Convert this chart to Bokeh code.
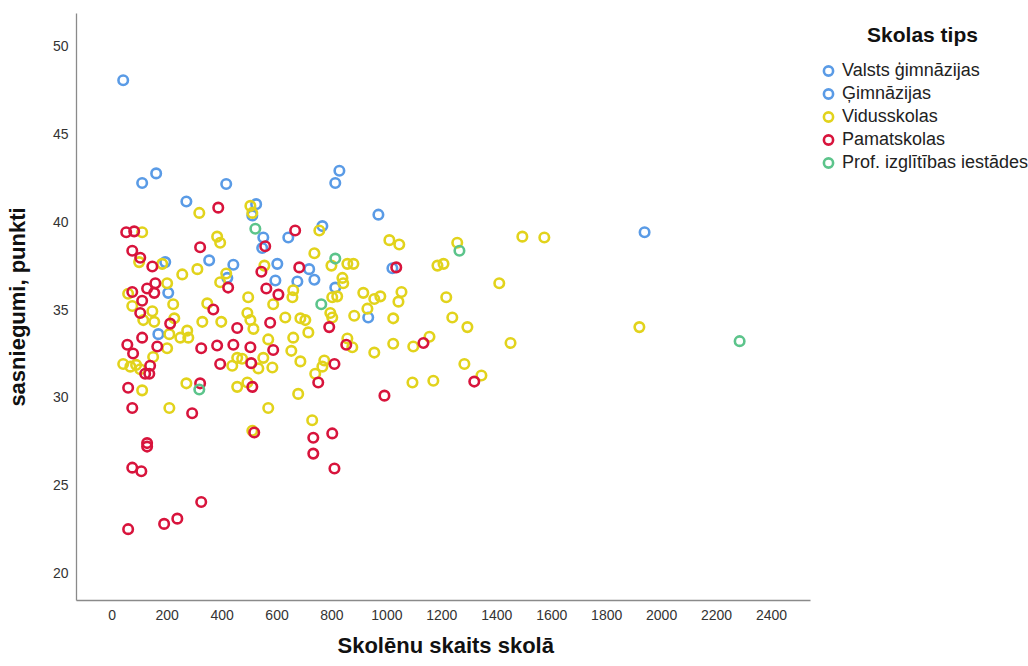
from bokeh.plotting import figure
from bokeh.models import Range1d, FixedTicker, Legend, LegendItem, Label, Title
from bokeh.embed import file_html
from bokeh.resources import INLINE

# ---- data ----
categories = ["Valsts ģimnāzijas", "Ģimnāzijas", "Vidusskolas", "Pamatskolas", "Prof. izglītības iestādes"]

valsts_x = [40, 109, 160, 270, 415, 524, 510, 550, 641, 765, 827, 812, 969, 1938]
valsts_y = [48.05, 42.2, 42.75, 41.15, 42.15, 41.0, 40.35, 39.1, 39.1, 39.75, 42.9, 42.2, 40.4, 39.4]

gimn_x = [546, 353, 441, 419, 601, 594, 674, 193, 204, 168, 717, 736, 1020, 812, 932]
gimn_y = [38.5, 37.8, 37.55, 36.8, 37.6, 36.65, 36.6, 37.7, 35.95, 33.6, 37.3, 36.7, 37.35, 36.25, 34.55]

vid_x = [109, 98, 182, 255, 200, 58, 73, 222, 146, 113,
         153, 226, 328, 273, 208, 248, 277, 200, 149, 40,
         66, 87, 102, 270, 109, 208, 317, 503, 510, 382,
         393, 310, 415, 393, 554, 659, 656, 495, 586, 346,
         492, 503, 514, 397, 630, 568, 659, 652, 455, 437,
         473, 532, 583, 550, 455, 492, 568, 510, 677, 754,
         1009, 1045, 1256, 1493, 1573, 736, 798, 856, 878, 1184,
         1206, 838, 841, 819, 801, 914, 954, 976, 1053, 1042,
         929, 794, 801, 881, 1023, 1216, 1409, 1238, 1293, 685,
         703, 714, 856, 874, 954, 1023, 1096, 1155, 1450, 685,
         772, 765, 739, 1093, 1169, 1282, 1344, 1919, 728]
vid_y = [39.4, 37.7, 37.6, 37.0, 36.5, 35.9, 35.2, 35.3, 34.9, 34.4,
         34.3, 34.5, 34.3, 33.8, 33.6, 33.4, 33.4, 32.8, 32.3, 31.9,
         31.75, 31.85, 31.6, 30.8, 30.4, 29.4, 40.5, 40.9, 40.5, 39.15,
         38.8, 37.3, 37.05, 36.55, 37.5, 36.1, 35.7, 35.7, 35.3, 35.35,
         34.8, 34.4, 33.9, 34.3, 34.55, 33.3, 33.4, 32.65, 32.25, 31.8,
         32.2, 31.65, 31.7, 32.25, 30.6, 30.85, 29.4, 28.1, 30.2, 39.5,
         38.95, 38.7, 38.8, 39.15, 39.1, 38.2, 37.5, 37.6, 37.6, 37.5,
         37.6, 36.8, 36.5, 35.75, 35.7, 35.95, 35.6, 35.75, 36.0, 35.45,
         35.05, 34.8, 34.55, 34.65, 34.5, 35.7, 36.5, 34.55, 34.0, 34.5,
         34.4, 33.7, 33.35, 32.85, 32.55, 33.05, 32.9, 33.45, 33.1, 32.05,
         32.1, 31.75, 31.35, 30.85, 30.95, 31.9, 31.25, 34.0, 28.7]

pam_x = [51, 80, 73, 102, 146, 157, 73, 127, 153, 109,
         102, 211, 109, 55, 164, 324, 76, 138, 120, 135,
         320, 58, 73, 291, 127, 127, 73, 106, 58, 189,
         237, 324, 386, 666, 320, 557, 422, 543, 681, 561,
         605, 368, 455, 575, 382, 441, 503, 586, 393, 506,
         510, 517, 1034, 790, 852, 1133, 809, 750, 991, 1318,
         732, 801, 732, 809]
pam_y = [39.4, 39.45, 38.35, 37.95, 37.45, 36.5, 36.0, 36.2, 35.95, 35.5,
         34.8, 34.2, 33.4, 33.0, 32.9, 32.8, 32.5, 31.8, 31.35, 31.35,
         30.8, 30.55, 29.4, 29.1, 27.4, 27.2, 26.0, 25.8, 22.5, 22.8,
         23.1, 24.05, 40.8, 39.5, 38.55, 38.6, 36.25, 37.15, 37.4, 36.2,
         35.85, 35.0, 33.95, 34.25, 32.95, 33.0, 32.85, 32.7, 31.9, 31.95,
         30.6, 28.0, 37.4, 34.0, 33.0, 33.1, 31.9, 30.85, 30.1, 30.9,
         27.7, 27.95, 26.8, 25.95]

prof_x = [521, 812, 1264, 761, 317, 2284]
prof_y = [39.6, 37.9, 38.35, 35.3, 30.45, 33.2]

x_ticks = [0, 200, 400, 600, 800, 1000, 1200, 1400, 1600, 1800, 2000, 2200, 2400]
y_ticks = [20, 25, 30, 35, 40, 45, 50]

colors = ["#5a9be6", "#5a9be6", "#e2d31c", "#d8143c", "#5cc48b"]

# ---- figure ----
W, H = 1028, 666
LEFT, TOP, BOTTOM = 76, 13, 66
AXIS_W = 734                     # drawn length of the x axis in px
X0, X1 = -130, 2542              # extent of the drawn x axis
Y0, Y1 = 18.44, 51.85
px_per_x = AXIS_W / (X1 - X0)
X_FULL = X0 + (W - LEFT) / px_per_x  # frame extends under the legend area
frame_h = H - TOP - BOTTOM
px_per_y = frame_h / (Y1 - Y0)

p = figure(width=W, height=H, output_backend="svg", toolbar_location=None,
           x_range=Range1d(X0, X_FULL), y_range=Range1d(Y0, Y1),
           min_border_left=LEFT, min_border_right=0, min_border_top=TOP, min_border_bottom=BOTTOM)
p.outline_line_color = None
p.xgrid.visible = False
p.ygrid.visible = False
p.background_fill_color = "white"
p.border_fill_color = "white"

series = [(valsts_x, valsts_y), (gimn_x, gimn_y), (vid_x, vid_y), (pam_x, pam_y), (prof_x, prof_y)]
renderers = []
for (xs, ys), c in zip(series, colors):
    r = p.scatter(xs, ys, marker="circle", size=9.5, fill_alpha=0, line_color=c, line_width=2.6)
    renderers.append(r)

p.xaxis.ticker = FixedTicker(ticks=x_ticks)
p.yaxis.ticker = FixedTicker(ticks=y_ticks)
p.xaxis.bounds = (X0, X1)
for ax in (p.xaxis[0], p.yaxis[0]):
    ax.major_tick_line_color = None
    ax.minor_tick_line_color = None
    ax.major_tick_out = 0
    ax.major_tick_in = 0
    ax.axis_line_color = "#8a8a8a"
    ax.axis_line_width = 1.3
    ax.major_label_text_font = "Liberation Sans"
    ax.major_label_text_font_size = "14px"
    ax.major_label_text_color = "#333333"
    ax.axis_label_text_font = "Liberation Sans"
    ax.axis_label_text_font_style = "bold"
    ax.axis_label_text_font_size = "22px"
    ax.axis_label_text_color = "#111111"

p.yaxis.axis_label = "sasniegumi, punkti"
p.xaxis.major_label_standoff = 9
p.yaxis.major_label_standoff = 8
p.yaxis.axis_label_standoff = 20

# x-axis title: centred under the drawn axis (the frame itself runs on under the legend)
xlabel = "Skolēnu skaits skolā"
p.add_layout(Title(text=xlabel, align="left", offset=337 - LEFT, standoff=17,
                   text_font="Liberation Sans", text_font_style="bold", text_font_size="22px",
                   text_color="#111111"), "below")

items = [LegendItem(label=lab, renderers=[r]) for lab, r in zip(categories, renderers)]
# location = bottom-left corner of the legend box, measured from the frame's bottom-left
legend = Legend(items=items, location=(739, 426), padding=4, spacing=0,
                glyph_width=26, glyph_height=23, label_height=20, label_standoff=1,
                border_line_color=None, background_fill_alpha=0, margin=0,
                label_text_font="Liberation Sans", label_text_font_size="18px",
                label_text_color="#222222")
p.add_layout(legend)

# legend heading
title_x = X0 + (922 - LEFT) / px_per_x
title_y = Y1 - (34 - TOP) / px_per_y
p.add_layout(Label(x=title_x, y=title_y, text="Skolas tips",
                   text_font="Liberation Sans", text_font_style="bold", text_font_size="21px",
                   text_align="center", text_baseline="middle", text_color="#111111"))

open("out.html", "w").write(file_html(p, INLINE))
